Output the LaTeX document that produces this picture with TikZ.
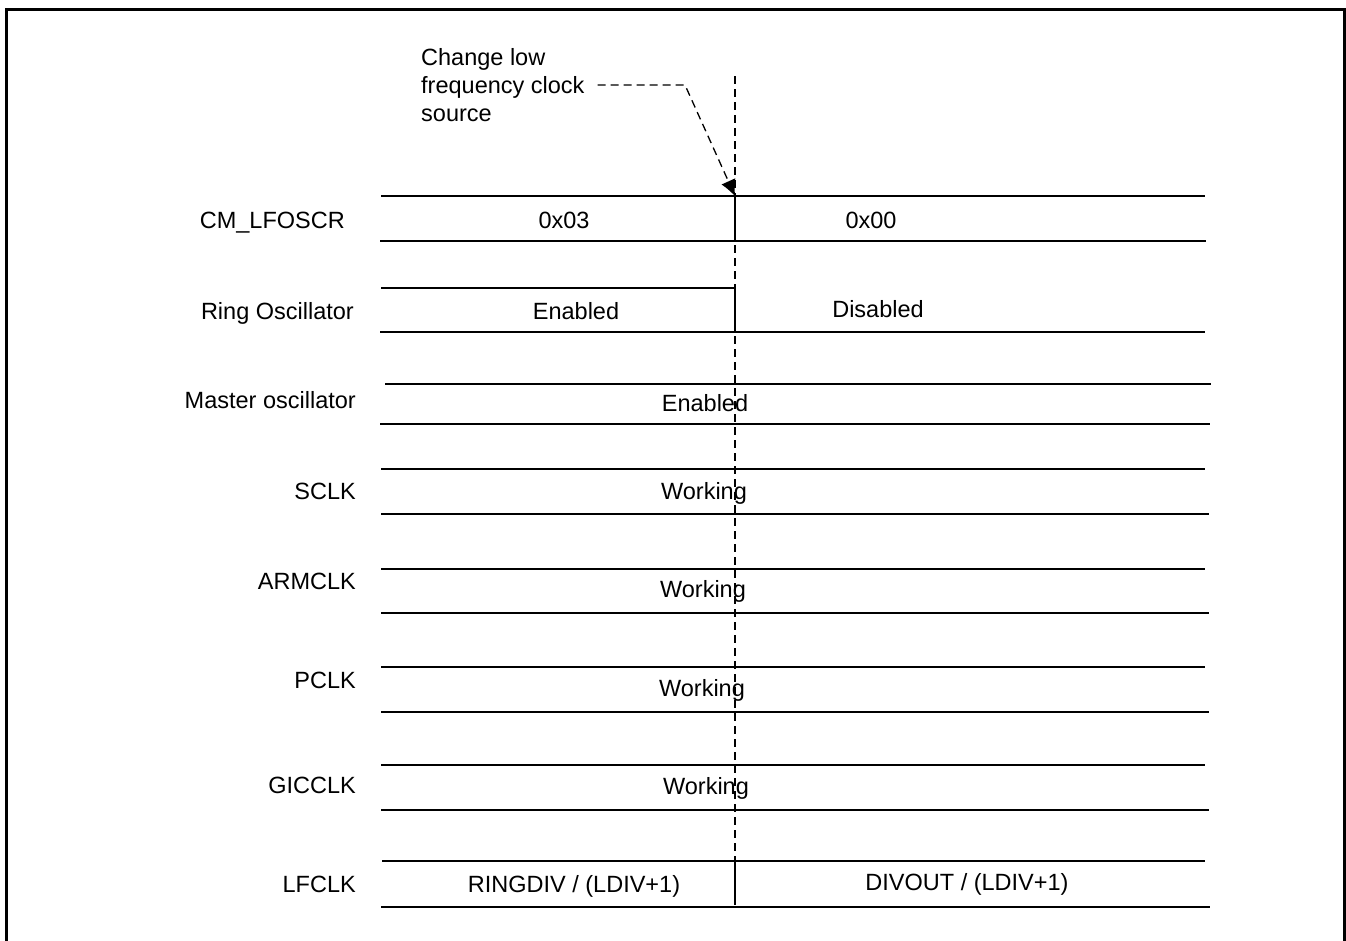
\documentclass[tikz,border=0pt]{standalone}
\usepackage{fontspec}
\setmainfont{Liberation Sans}
\usetikzlibrary{arrows.meta}
\definecolor{TraceInk}{HTML}{000000}

\begin{document}
\begin{tikzpicture}[x=1pt,y=-1pt,
    every node/.style={font=\fontsize{23.5}{28}\selectfont,text=TraceInk},
    sig/.style={inner sep=0pt,text height=17pt,text depth=0pt},
    rail/.style={draw=TraceInk,line width=1.5pt},
    edge/.style={draw=TraceInk,line width=1.6pt},
    leader/.style={draw=TraceInk,line width=1.3pt,dash pattern=on 8pt off 5pt}]
  \useasboundingbox (0,0) rectangle (1346,940);
  \draw[TraceInk,line width=3pt] (6.5,960) -- (6.5,9) -- (1344,9) -- (1344,960);

  % signal names
  \node[sig,anchor=east] (lfoscr) at (345,220) {CM\_LFOSCR};
  \node[sig,anchor=east] (ring)   at (354,311) {Ring Oscillator};
  \node[sig,anchor=east] (mosc)   at (356,400) {Master oscillator};
  \node[sig,anchor=east] (sclk)   at (356,491) {SCLK};
  \node[sig,anchor=east] (armclk) at (356,581) {ARMCLK};
  \node[sig,anchor=east] (pclk)   at (356,680) {PCLK};
  \node[sig,anchor=east] (gicclk) at (356,785) {GICCLK};
  \node[sig,anchor=east] (lfclk)  at (356,884) {LFCLK};

  % CM_LFOSCR
  \draw[rail] (381,196) -- (1205,196);
  \draw[rail] (380,241) -- (1206,241);
  \node[sig] (reg3) at (564,220) {0x03};
  \node[sig] (reg0) at (871,220) {0x00};

  % ring oscillator
  \draw[rail] (381,288) -- (735,288);
  \draw[rail] (380,332) -- (1205,332);
  \node[sig] (ringon)  at (576,311) {Enabled};
  \node[sig] (ringoff) at (878,309) {Disabled};

  % master oscillator
  \draw[rail] (385,384) -- (1211,384);
  \draw[rail] (380,424) -- (1210,424);
  \node[sig] (moscon) at (705,403) {Enabled};

  % clocks that keep running
  \foreach \yt/\yb/\xw/\yw/\xg/\nm in {469/514/704/491/782/sclkw,
                                       569/613/703/589/781/armw,
                                       667/712/702/688/780/pclkw,
                                       765/810/706/786/784/gicw}{
    \draw[rail] (381,\yt) -- (1205,\yt);
    \draw[rail] (381,\yb) -- (1209,\yb);
    \draw[TraceInk,line width=2.2pt] (\xg,\yt) -- ++(80,0);
    \node[sig] (\nm) at (\xw,\yw) {Working};
  }

  % LFCLK
  \draw[rail] (382,861) -- (1205,861);
  \draw[rail] (381,907) -- (1210,907);
  \node[sig] (lfring) at (574,884) {RINGDIV / (LDIV+1)};
  \node[sig] (lfdiv)  at (967,882) {DIVOUT / (LDIV+1)};

  % switch point
  \coordinate (swtop) at (735,76);
  \coordinate (swbot) at (735,905);
  \coordinate (swarr) at (735,196);
  \draw[leader] (swtop) -- (swbot);
  \draw[edge] (735,196) -- (735,241);
  \draw[edge] (735,288) -- (735,332);
  \draw[edge] (735,861) -- (735,905);

  % annotation
  \node[inner sep=0pt,align=left,anchor=west] (note) at (421,85)
    {Change low\\frequency clock\\source};
  \coordinate (bend) at (685,85);
  \draw[leader,-{Latex[length=16pt,width=15pt,line width=0pt]}]
    ([xshift=13pt]note.east |- bend) -- (bend) -- (swarr);
\end{tikzpicture}
\end{document}
